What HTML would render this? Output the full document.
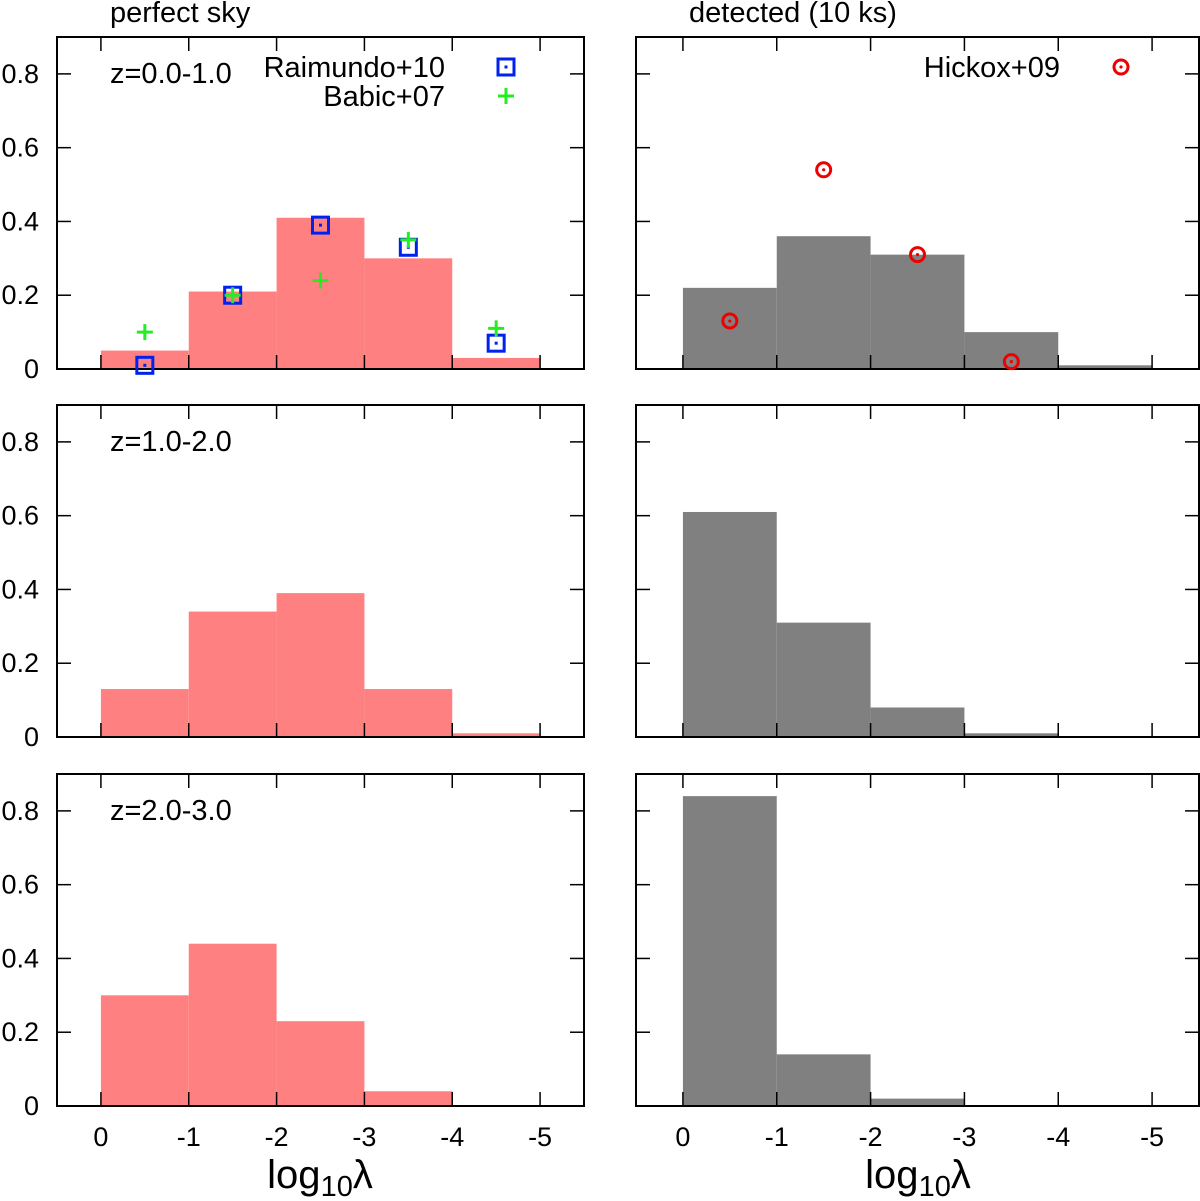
<!DOCTYPE html>
<html><head><meta charset="utf-8"><style>
html,body{margin:0;padding:0;background:#fff;}
svg{display:block;font-family:"Liberation Sans",sans-serif;}
</style></head><body>
<svg id="c" width="1200" height="1201"></svg>
<script>
const bins=[0,-1,-2,-3,-4];
const leftTop=[0.05,0.21,0.41,0.30,0.03];
const leftMid=[0.13,0.34,0.39,0.13,0.01];
const leftBot=[0.30,0.44,0.23,0.04,0];
const rightTop=[0.22,0.36,0.31,0.10,0.01];
const rightMid=[0.61,0.31,0.08,0.01,0];
const rightBot=[0.84,0.14,0.02,0,0];
const raimX=[-0.5,-1.5,-2.5,-3.5,-4.5];
const raimY=[0.01,0.20,0.39,0.33,0.07];
const babicX=[-0.5,-1.5,-2.5,-3.5,-4.5];
const babicY=[0.10,0.20,0.24,0.35,0.11];
const hickX=[-0.5,-1.5,-2.5,-3.5];
const hickY=[0.13,0.54,0.31,0.02];
const yTicks=[0,0.2,0.4,0.6,0.8];
const yTickLabels=["0","0.2","0.4","0.6","0.8"];
const xTicks=[0,-1,-2,-3,-4,-5];
const xTickLabels=["0","-1","-2","-3","-4","-5"];
const zLabels=["z=0.0-1.0","z=1.0-2.0","z=2.0-3.0"];

const NS="http://www.w3.org/2000/svg";
const svg=document.getElementById('c');
function mk(t,a,p){const e=document.createElementNS(NS,t);for(const k in a)e.setAttribute(k,a[k]);(p||svg).appendChild(e);return e;}
const cols=[{x0:57,x1:584,color:"#ff8080"},{x0:636,x1:1199,color:"#808080"}];
const rows=[{y0:37,y1:369},{y0:405,y1:737},{y0:774,y1:1106}];
const data=[[leftTop,rightTop],[leftMid,rightMid],[leftBot,rightBot]];
function xs(c,v){const C=cols[c];return C.x0+(0.5-v)/6*(C.x1-C.x0);}
function ys(r,v){const R=rows[r];return R.y1-v/0.9*(R.y1-R.y0);}
for(let r=0;r<3;r++)for(let c=0;c<2;c++){
  const C=cols[c],R=rows[r];
  const g=mk('g',{});
  
  
  const vals=data[r][c];
  vals.forEach((v,i)=>{
    if(v<=0)return;
    const xa=xs(c,bins[i]),xb=xs(c,bins[i]-1),y=ys(r,v);
    const b=mk('rect',{x:xa,y:y,width:xb-xa,height:R.y1-y,fill:C.color},g);
    
    
  });
  mk('rect',{x:C.x0,y:R.y0,width:C.x1-C.x0,height:R.y1-R.y0,fill:'none',stroke:'#000','stroke-width':2},g);
  yTicks.forEach((t,i)=>{
    const y=ys(r,t);
    mk('line',{x1:C.x0,x2:C.x0+14,y1:y,y2:y,stroke:'#000','stroke-width':1.5},g);
    mk('line',{x1:C.x1,x2:C.x1-14,y1:y,y2:y,stroke:'#000','stroke-width':1.5},g);
    if(c===0){const tx=mk('text',{x:39,y:y+9,'text-anchor':'end','font-size':27},g);tx.textContent=yTickLabels[i];
      }
  });
  xTicks.forEach((t,i)=>{
    const x=xs(c,t);
    mk('line',{x1:x,x2:x,y1:R.y1,y2:R.y1-14,stroke:'#000','stroke-width':1.5},g);
    mk('line',{x1:x,x2:x,y1:R.y0,y2:R.y0+14,stroke:'#000','stroke-width':1.5},g);
    if(r===2){const tx=mk('text',{x:x,y:1146,'text-anchor':'middle','font-size':27},g);tx.textContent=xTickLabels[i];
      }
  });
  if(c===0){const tx=mk('text',{x:110,y:R.y0+46,'font-size':29},g);tx.textContent=zLabels[r];
    }
}
function sq(x,y,p){mk('rect',{x:x-8,y:y-8,width:16,height:16,fill:'none',stroke:'#0022ee','stroke-width':3},p);mk('rect',{x:x-1.5,y:y-1.5,width:3,height:3,fill:'#0022ee'},p);}
function plus(x,y,p){mk('path',{d:`M${x-8} ${y}H${x+8}M${x} ${y-8}V${y+8}`,stroke:'#22ee22','stroke-width':3},p);}
function circ(x,y,p){mk('circle',{cx:x,cy:y,r:7,fill:'none',stroke:'#ee0000','stroke-width':3},p);mk('circle',{cx:x,cy:y,r:1.6,fill:'#ee0000'},p);}
const gr=mk('g',{});
raimX.forEach((v,i)=>sq(xs(0,v),ys(0,raimY[i]),gr));
const gb=mk('g',{});
babicX.forEach((v,i)=>plus(xs(0,v),ys(0,babicY[i]),gb));
const gh=mk('g',{});
hickX.forEach((v,i)=>circ(xs(1,v),ys(0,hickY[i]),gh));
const lg=mk('g',{});
let t=mk('text',{x:445,y:77,'text-anchor':'end','font-size':29},lg);t.textContent='Raimundo+10';
sq(506,67,lg);
t=mk('text',{x:445,y:106,'text-anchor':'end','font-size':29},lg);t.textContent='Babic+07';
plus(506,96,lg);
t=mk('text',{x:1060,y:77,'text-anchor':'end','font-size':29},lg);t.textContent='Hickox+09';
circ(1121,67,lg);
t=mk('text',{x:110,y:22,'font-size':29});t.textContent='perfect sky';

t=mk('text',{x:689,y:22,'font-size':29});t.textContent='detected (10 ks)';

[[320,0],[918,1]].forEach(([x,i])=>{
  const a=mk('text',{x:x,y:1188,'text-anchor':'middle','font-size':40});
  
  a.innerHTML='log<tspan font-size="29" dy="8">10</tspan><tspan dy="-8">λ</tspan>';
});
</script>
</body></html>
